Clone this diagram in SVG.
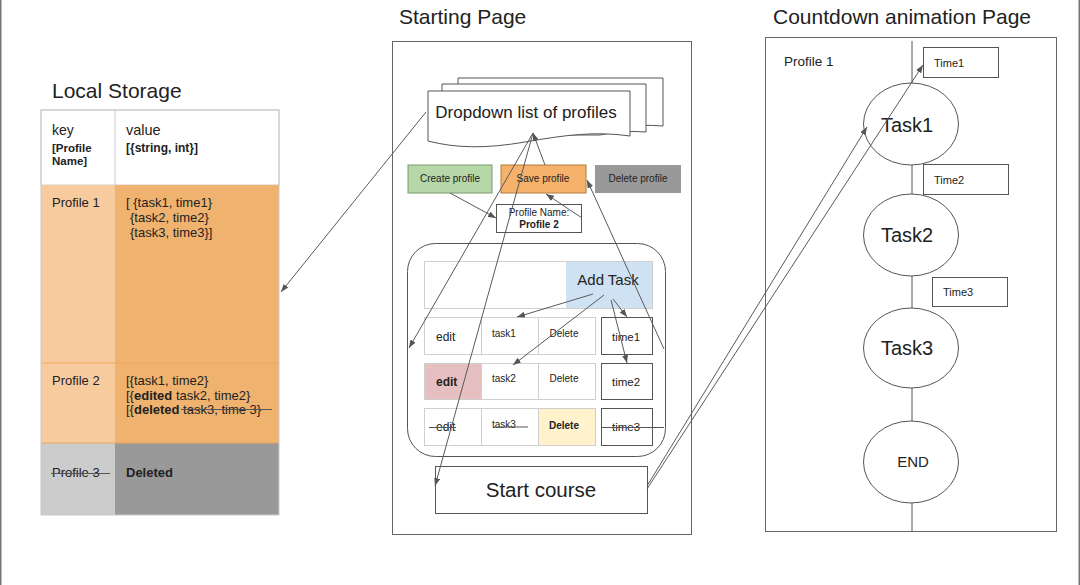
<svg xmlns="http://www.w3.org/2000/svg" width="1080" height="585" viewBox="0 0 1080 585">
<style>
text{font-family:"Liberation Sans",Arial,sans-serif;fill:#222}
.b{font-weight:bold}
.ln{stroke:#5a5a5a;stroke-width:1;fill:none}
.frame{fill:#fff;stroke:#666;stroke-width:1}
.cell{fill:#fff;stroke:#cfcfcf;stroke-width:1}
.box{fill:#fff;stroke:#555;stroke-width:1}
.strk{stroke:#555;stroke-width:1}
.mid{text-anchor:middle}
</style>
<defs>
<marker id="ah" markerUnits="userSpaceOnUse" markerWidth="8" markerHeight="6" refX="8" refY="3" orient="auto">
<path d="M0,0 L8,3 L0,6 Z" fill="#555"/>
</marker>
</defs>
<rect width="1080" height="585" fill="#fff"/>
<line x1="0.75" y1="0" x2="0.75" y2="585" stroke="#777" stroke-width="1.5"/>
<line x1="1079.25" y1="0" x2="1079.25" y2="585" stroke="#777" stroke-width="1.5"/>

<g id="local-storage">
<text x="52" y="98" font-size="21">Local Storage</text>
<rect x="41" y="110" width="238" height="75" fill="#fff" stroke="#cfcfcf"/>
<line x1="115" y1="110" x2="115" y2="185" stroke="#cfcfcf"/>
<rect x="41" y="185" width="74" height="178" fill="#f8cb9f"/>
<rect x="115" y="185" width="164" height="178" fill="#efb26f"/>
<rect x="41" y="363" width="74" height="80" fill="#f8cb9f"/>
<rect x="115" y="363" width="164" height="80" fill="#efb26f"/>
<rect x="41" y="443" width="74" height="72" fill="#cccccc"/>
<rect x="115" y="443" width="164" height="72" fill="#999999"/>
<line x1="41" y1="363" x2="279" y2="363" stroke="#f2a860"/>
<line x1="41" y1="443" x2="279" y2="443" stroke="#e8a65e"/>
<rect x="41" y="110" width="238" height="405" fill="none" stroke="#c8c8c8"/>
<text x="52" y="135" font-size="14">key</text>
<text x="52" y="152" font-size="11.5" class="b">[Profile</text>
<text x="52" y="165" font-size="11.5" class="b">Name]</text>
<text x="126" y="135" font-size="14.5">value</text>
<text x="126" y="152" font-size="12" class="b">[{string, int}]</text>
<text x="52" y="207" font-size="13">Profile 1</text>
<text x="126" y="207" font-size="13">[ {task1, time1}</text>
<text x="130" y="222" font-size="13">{task2, time2}</text>
<text x="130" y="237" font-size="13">{task3, time3}]</text>
<text x="52" y="385" font-size="13">Profile 2</text>
<text x="126" y="385" font-size="13">[{task1, time2}</text>
<text x="126" y="400" font-size="13">[{<tspan class="b">edited</tspan> task2, time2}</text>
<text x="126" y="414" font-size="13">[{<tspan class="b">deleted</tspan> task3, time 3}</text>
<line x1="181" y1="409.5" x2="272" y2="409.5" class="strk"/>
<text x="52" y="477" font-size="13">Profile 3</text>
<line x1="51" y1="473.5" x2="110" y2="473.5" class="strk"/>
<text x="126" y="477" font-size="13" class="b">Deleted</text>
</g>

<g id="starting-page">
<text x="399" y="24" font-size="21">Starting Page</text>
<rect x="392.5" y="41.5" width="299" height="493" class="frame"/>
</g>

<g id="dropdown">
<path d="M458,78 H663 V126 Q640,124 620,128 L458,128 Z" class="box"/>
<path d="M442,84 H646 V132 Q622,130 600,135 L442,135 Z" class="box"/>
<path d="M428,91 H630 V136 C595,131 565,135 525,142 C485,149 455,148 428,141 Z" class="box"/>
<text x="526" y="118" font-size="17" class="mid">Dropdown list of profiles</text>
</g>

<g id="create-profile">
<rect x="408" y="165" width="84" height="28" fill="#b6d7a8" stroke="#7a9a6c"/>
<text x="450" y="182" font-size="10" class="mid">Create profile</text>
</g>
<g id="save-profile">
<rect x="501" y="165" width="85" height="28" fill="#f6b26b" stroke="#b07a3c"/>
<text x="543" y="182" font-size="10" class="mid">Save profile</text>
</g>
<g id="delete-profile">
<rect x="595" y="165" width="86" height="28" fill="#999999"/>
<text x="638" y="182" font-size="10" class="mid">Delete profile</text>
</g>
<g id="profile-name">
<rect x="496.5" y="204.5" width="85" height="28" class="box"/>
<text x="539" y="216" font-size="10" class="mid">Profile Name:</text>
<text x="539" y="228" font-size="10" class="mid b">Profile 2</text>
</g>

<g id="task-panel">
<rect x="407.5" y="243.5" width="258" height="213" rx="28" class="box"/>
<rect x="424.5" y="261.5" width="228" height="47" class="cell"/>
<rect x="566" y="262" width="86" height="46" fill="#cfe2f3"/>
<text x="608" y="285" font-size="15" class="mid">Add Task</text>

<rect x="424.5" y="317.5" width="57" height="37" class="cell"/>
<rect x="481.5" y="317.5" width="57" height="37" class="cell"/>
<rect x="538.5" y="317.5" width="57" height="37" class="cell"/>
<rect x="601.5" y="317.5" width="51" height="37" class="box"/>
<text x="436" y="341" font-size="12">edit</text>
<text x="492" y="337" font-size="10">task1</text>
<text x="564" y="337" font-size="10" class="mid">Delete</text>
<text x="626" y="341" font-size="11.5" class="mid">time1</text>

<rect x="424.5" y="363.5" width="57" height="36" fill="#e6c0c0" stroke="#cfcfcf"/>
<rect x="481.5" y="363.5" width="57" height="36" class="cell"/>
<rect x="538.5" y="363.5" width="57" height="36" class="cell"/>
<rect x="601.5" y="363.5" width="51" height="36" class="box"/>
<text x="436" y="386" font-size="12" class="b">edit</text>
<text x="492" y="382" font-size="10">task2</text>
<text x="564" y="382" font-size="10" class="mid">Delete</text>
<text x="626" y="386" font-size="11.5" class="mid">time2</text>

<rect x="424.5" y="408.5" width="57" height="37" class="cell"/>
<rect x="481.5" y="408.5" width="57" height="37" class="cell"/>
<rect x="538.5" y="408.5" width="57" height="37" fill="#fff2cc" stroke="#cfcfcf"/>
<rect x="601.5" y="408.5" width="51" height="37" class="box"/>
<text x="436" y="431" font-size="12">edit</text>
<text x="492" y="428" font-size="10">task3</text>
<text x="564" y="429" font-size="10" class="mid b">Delete</text>
<text x="626" y="431" font-size="11.5" class="mid">time3</text>
<line x1="429" y1="427.5" x2="456" y2="427.5" class="strk"/>
<line x1="493" y1="427" x2="528" y2="427" class="strk"/>
<line x1="602" y1="427.5" x2="664" y2="427.5" class="strk"/>
</g>

<g id="start-course">
<rect x="435.5" y="466.5" width="212" height="47" class="box"/>
<text x="541" y="497" font-size="20.5" class="mid">Start course</text>
</g>

<g id="countdown-page">
<text x="773" y="24" font-size="21">Countdown animation Page</text>
<rect x="765.5" y="37.5" width="291" height="494" class="frame"/>
<line x1="912" y1="41" x2="912" y2="532" stroke="#555"/>
<text x="784" y="66" font-size="13.5">Profile 1</text>
</g>
<g id="time1"><rect x="923.5" y="47.5" width="75" height="30" class="box"/><text x="934" y="67" font-size="11">Time1</text></g>
<g id="time2"><rect x="923.5" y="164.5" width="85" height="30" class="box"/><text x="934" y="184" font-size="11">Time2</text></g>
<g id="time3"><rect x="932.5" y="277.5" width="75" height="29" class="box"/><text x="943" y="296" font-size="11">Time3</text></g>
<g id="task1"><ellipse cx="911" cy="124" rx="47.5" ry="41" class="box"/><text x="907" y="132" font-size="20" class="mid">Task1</text></g>
<g id="task2"><ellipse cx="911" cy="235" rx="47.5" ry="41" class="box"/><text x="907" y="242" font-size="20" class="mid">Task2</text></g>
<g id="task3"><ellipse cx="911" cy="348" rx="47.5" ry="40" class="box"/><text x="907" y="355" font-size="20" class="mid">Task3</text></g>
<g id="end"><ellipse cx="911" cy="462" rx="47.5" ry="41" class="box"/><text x="913" y="467" font-size="15" class="mid">END</text></g>

<g id="connectors">
<line x1="426" y1="112" x2="281" y2="292" class="ln" marker-end="url(#ah)"/>
<line x1="450" y1="193" x2="496" y2="218" class="ln" marker-end="url(#ah)"/>
<line x1="582" y1="218" x2="546" y2="194" class="ln" marker-end="url(#ah)"/>
<line x1="545" y1="165" x2="533" y2="133" class="ln" marker-end="url(#ah)"/>
<line x1="533" y1="133" x2="409" y2="348" class="ln" marker-end="url(#ah)"/>
<line x1="533" y1="133" x2="435" y2="486" class="ln" marker-end="url(#ah)"/>
<line x1="664" y1="349" x2="587" y2="180" class="ln" marker-end="url(#ah)"/>
<line x1="593" y1="294" x2="517" y2="317" class="ln" marker-end="url(#ah)"/>
<line x1="604" y1="295" x2="513" y2="365" class="ln" marker-end="url(#ah)"/>
<line x1="613" y1="299" x2="627" y2="317" class="ln" marker-end="url(#ah)"/>
<line x1="611" y1="300" x2="627" y2="363" class="ln" marker-end="url(#ah)"/>
<line x1="647" y1="486" x2="867" y2="127" class="ln" marker-end="url(#ah)"/>
<line x1="647" y1="489" x2="923" y2="65" class="ln" marker-end="url(#ah)"/>
</g>
</svg>
